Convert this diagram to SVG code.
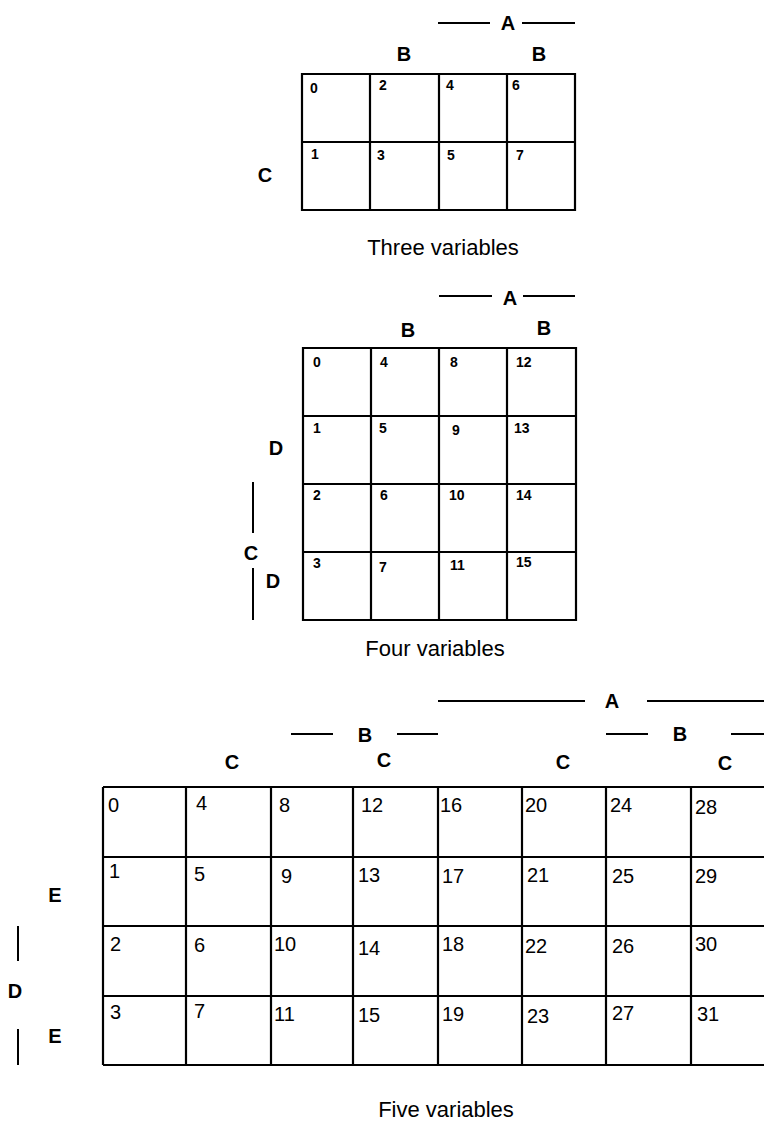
<svg xmlns="http://www.w3.org/2000/svg" width="764" height="1123" viewBox="0 0 764 1123">
<style>
.g{fill:none;stroke:#000;stroke-width:2.2}
.ln{stroke:#000;stroke-width:2}
.lb{font-family:"Liberation Sans",Arial,sans-serif;font-weight:bold;font-size:20px;text-anchor:middle;fill:#000}
.n{font-family:"Liberation Sans",Arial,sans-serif;font-weight:bold;font-size:14px;fill:#000}
.m{font-family:"Liberation Sans",Arial,sans-serif;font-size:20px;fill:#000}
.cap{font-family:"Liberation Sans",Arial,sans-serif;font-size:22px;text-anchor:middle;fill:#000}
</style>
<rect width="764" height="1123" fill="#fff"/>

<!-- Three variables -->
<g id="map3">
<path class="g" d="M302 74H575V210H302Z M302 142H575 M370 74V210 M439 74V210 M507 74V210"/>
<g id="map3-labels">
<line class="ln" x1="438" y1="23" x2="490" y2="23"/>
<line class="ln" x1="522" y1="23" x2="575" y2="23"/>
<text class="lb" x="508" y="30">A</text>
<text class="lb" x="404" y="61">B</text>
<text class="lb" x="539" y="61">B</text>
<text class="lb" x="265" y="182">C</text>
</g>
<text class="n" x="310" y="93">0</text>
<text class="n" x="379" y="90">2</text>
<text class="n" x="446" y="90">4</text>
<text class="n" x="512" y="90">6</text>
<text class="n" x="311" y="159">1</text>
<text class="n" x="377" y="160">3</text>
<text class="n" x="447" y="160">5</text>
<text class="n" x="516" y="160">7</text>
<text class="cap" x="443" y="255">Three variables</text>
</g>

<!-- Four variables -->
<g id="map4">
<path class="g" d="M303 348H576V620H303Z M303 416H576 M303 484H576 M303 552H576 M371 348V620 M439 348V620 M507 348V620"/>
<g id="map4-labels">
<line class="ln" x1="439" y1="296" x2="492" y2="296"/>
<line class="ln" x1="523" y1="296" x2="575" y2="296"/>
<text class="lb" x="510" y="305">A</text>
<text class="lb" x="408" y="337">B</text>
<text class="lb" x="544" y="335">B</text>
<text class="lb" x="276" y="455">D</text>
<line class="ln" x1="253" y1="482" x2="253" y2="533"/>
<text class="lb" x="251" y="560">C</text>
<line class="ln" x1="253" y1="568" x2="253" y2="620"/>
<text class="lb" x="273" y="588">D</text>
</g>
<text class="n" x="313" y="367">0</text>
<text class="n" x="380" y="367">4</text>
<text class="n" x="450" y="367">8</text>
<text class="n" x="516" y="367">12</text>
<text class="n" x="313" y="433">1</text>
<text class="n" x="379" y="433">5</text>
<text class="n" x="452" y="435">9</text>
<text class="n" x="514" y="433">13</text>
<text class="n" x="313" y="500">2</text>
<text class="n" x="380" y="500">6</text>
<text class="n" x="449" y="500">10</text>
<text class="n" x="516" y="500">14</text>
<text class="n" x="313" y="568">3</text>
<text class="n" x="379" y="572">7</text>
<text class="n" x="450" y="570">11</text>
<text class="n" x="516" y="567">15</text>
<text class="cap" x="435" y="656">Four variables</text>
</g>

<!-- Five variables -->
<g id="map5">
<path class="g" d="M103 787H776 M103 857H776 M103 926H776 M103 996H776 M103 1065H776 M103 787V1065 M186 787V1065 M271 787V1065 M353 787V1065 M438 787V1065 M522 787V1065 M606 787V1065 M691 787V1065"/>
<g id="map5-labels">
<line class="ln" x1="438" y1="701" x2="585" y2="701"/>
<line class="ln" x1="647" y1="701" x2="764" y2="701"/>
<text class="lb" x="612" y="708">A</text>
<line class="ln" x1="291" y1="734" x2="333" y2="734"/>
<line class="ln" x1="397" y1="734" x2="438" y2="734"/>
<text class="lb" x="365" y="742">B</text>
<line class="ln" x1="606" y1="734" x2="648" y2="734"/>
<line class="ln" x1="731" y1="734" x2="764" y2="734"/>
<text class="lb" x="680" y="741">B</text>
<text class="lb" x="232" y="769">C</text>
<text class="lb" x="384" y="767">C</text>
<text class="lb" x="563" y="769">C</text>
<text class="lb" x="725" y="770">C</text>
<text class="lb" x="55" y="902">E</text>
<line class="ln" x1="18" y1="926" x2="18" y2="961"/>
<text class="lb" x="15" y="998">D</text>
<line class="ln" x1="18" y1="1029" x2="18" y2="1065"/>
<text class="lb" x="55" y="1043">E</text>
</g>
<text class="m" x="108" y="812">0</text>
<text class="m" x="196" y="810">4</text>
<text class="m" x="279" y="812">8</text>
<text class="m" x="361" y="812">12</text>
<text class="m" x="440" y="812">16</text>
<text class="m" x="525" y="812">20</text>
<text class="m" x="610" y="812">24</text>
<text class="m" x="695" y="814">28</text>
<text class="m" x="109" y="878">1</text>
<text class="m" x="194" y="881">5</text>
<text class="m" x="281" y="883">9</text>
<text class="m" x="358" y="882">13</text>
<text class="m" x="442" y="883">17</text>
<text class="m" x="527" y="882">21</text>
<text class="m" x="612" y="883">25</text>
<text class="m" x="695" y="883">29</text>
<text class="m" x="110" y="951">2</text>
<text class="m" x="194" y="952">6</text>
<text class="m" x="274" y="951">10</text>
<text class="m" x="358" y="955">14</text>
<text class="m" x="442" y="951">18</text>
<text class="m" x="525" y="953">22</text>
<text class="m" x="612" y="953">26</text>
<text class="m" x="695" y="951">30</text>
<text class="m" x="110" y="1019">3</text>
<text class="m" x="194" y="1018">7</text>
<text class="m" x="274" y="1021">11</text>
<text class="m" x="358" y="1022">15</text>
<text class="m" x="442" y="1021">19</text>
<text class="m" x="527" y="1023">23</text>
<text class="m" x="612" y="1020">27</text>
<text class="m" x="697" y="1021">31</text>
<text class="cap" x="446" y="1117">Five variables</text>
</g>
</svg>
